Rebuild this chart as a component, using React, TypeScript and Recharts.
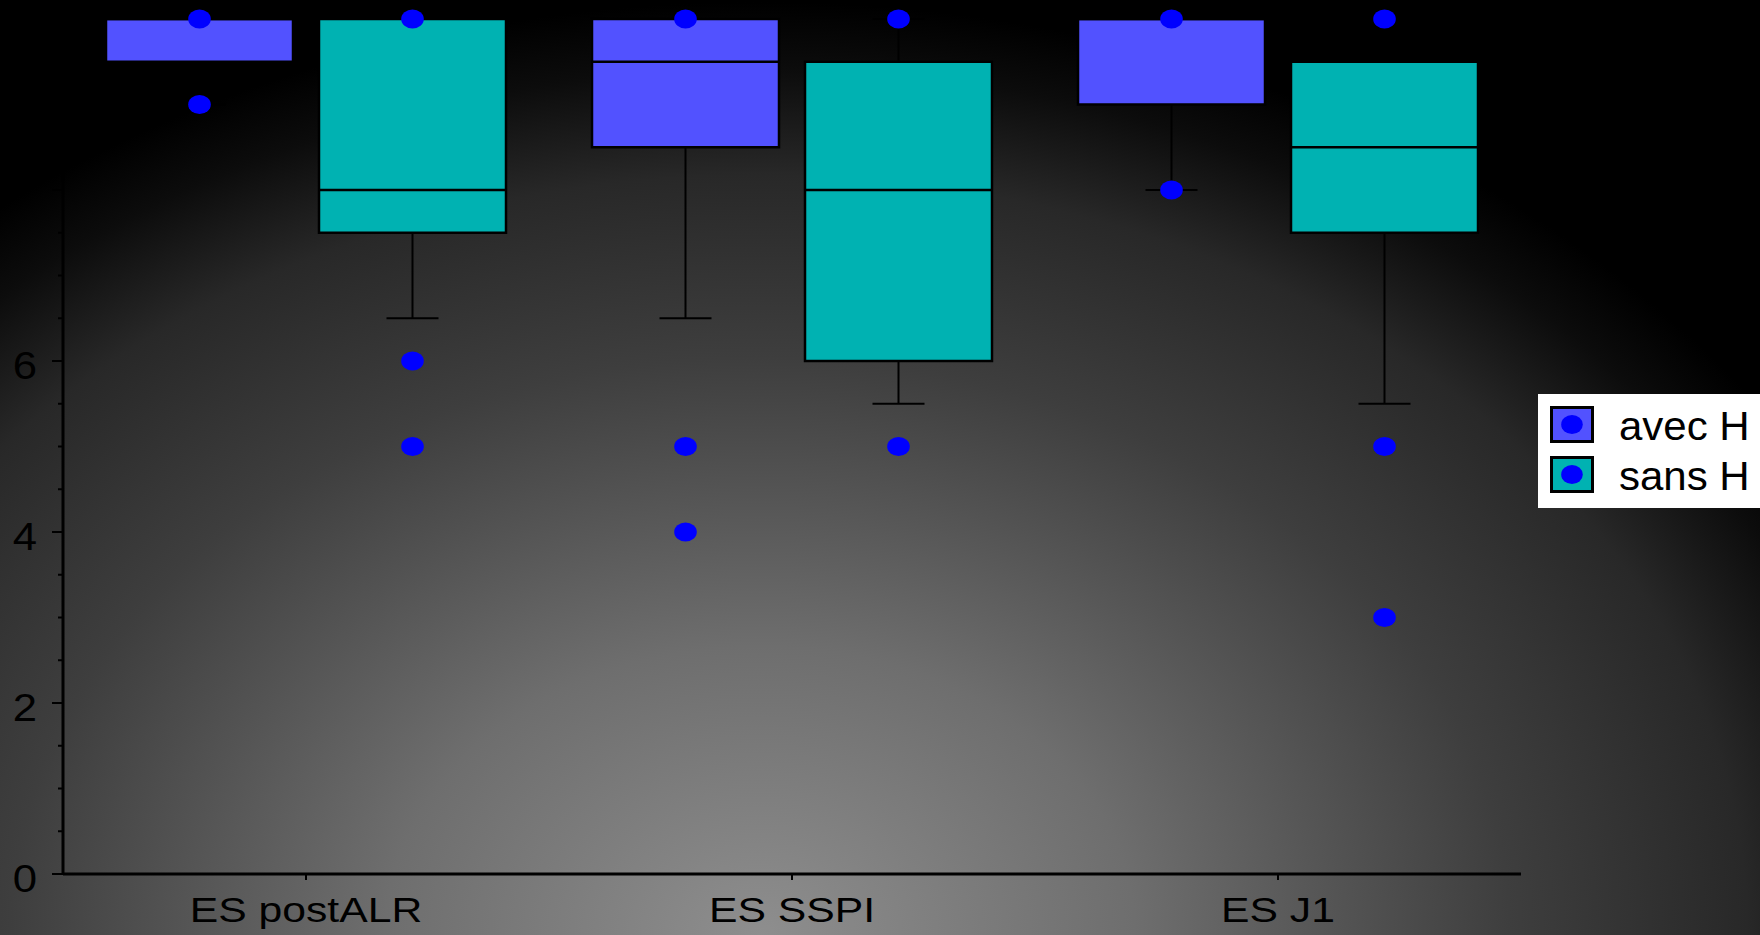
import { BarChart, Bar, XAxis, YAxis, Legend } from "recharts"

const categories = ["ES postALR", "ES SSPI", "ES J1"]

// avec H
const avecQ1 = [9.5, 8.5, 9]
const avecMedian = [10, 9.5, 10]
const avecQ3 = [10, 10, 10]
const avecLow = [9, 6.5, 8]
const avecHigh = [10, 10, 10]
const avecPoints = [[10, 9], [10, 5, 4], [10, 8]]

// sans H
const sansQ1 = [7.5, 6, 7.5]
const sansMedian = [8, 8, 8.5]
const sansQ3 = [10, 9.5, 9.5]
const sansLow = [6.5, 5.5, 5.5]
const sansHigh = [10, 10, 10]
const sansPoints = [[10, 6, 5], [10, 5], [10, 5, 3]]

// labels 8 and 10 are black on black in the original, so only these show
const yTickLabels = [0, 2, 4, 6]
const yMajorTicks = [0, 2, 4, 6, 8, 10]
const yMinorTicks = [0, 0.5, 1, 1.5, 2, 2.5, 3, 3.5, 4, 4.5, 5, 5.5, 6, 6.5, 7, 7.5, 8, 8.5, 9, 9.5, 10]

const AVEC_COLOR = "#5252ff"
const SANS_COLOR = "#00b2b2"
const DOT_COLOR = "#0000ff"
const FONT = "'Liberation Sans', Arial, sans-serif"

type BoxStats = { q1: number; median: number; q3: number; low: number; high: number; points: number[] }

const data = categories.map((name, i) => ({
  name,
  avec: { q1: avecQ1[i], median: avecMedian[i], q3: avecQ3[i], low: avecLow[i], high: avecHigh[i], points: avecPoints[i] },
  sans: { q1: sansQ1[i], median: sansMedian[i], q3: sansQ3[i], low: sansLow[i], high: sansHigh[i], points: sansPoints[i] },
}))

const BoxShape = (props: any) => {
  const { x, y, width, height, fill, box } = props as { x: number; y: number; width: number; height: number; fill: string; box: BoxStats }
  const top = Math.min(y, y + height)
  const h = Math.abs(height)
  // pixel scale taken from the bar the library laid out for [q1, q3]
  const pxPerUnit = h / (box.q3 - box.q1)
  const toY = (v: number) => top + (box.q3 - v) * pxPerUnit
  const cx = x + width / 2
  const cap = 26
  return (
    <g>
      {box.low < box.q1 && (
        <g stroke="#000" strokeWidth={2}>
          <line x1={cx} x2={cx} y1={toY(box.q1)} y2={toY(box.low)} />
          <line x1={cx - cap} x2={cx + cap} y1={toY(box.low)} y2={toY(box.low)} />
        </g>
      )}
      {box.high > box.q3 && (
        <g stroke="#000" strokeWidth={2}>
          <line x1={cx} x2={cx} y1={toY(box.q3)} y2={toY(box.high)} />
          <line x1={cx - cap} x2={cx + cap} y1={toY(box.high)} y2={toY(box.high)} />
        </g>
      )}
      <rect x={x} y={top} width={width} height={h} fill={fill} stroke="#000" strokeWidth={2.5} />
      <line x1={x} x2={x + width} y1={toY(box.median)} y2={toY(box.median)} stroke="#000" strokeWidth={2.5} />
      {box.points.map((p, i) => (
        <ellipse key={i} cx={cx} cy={toY(p)} rx={11.3} ry={9.5} fill={DOT_COLOR} />
      ))}
    </g>
  )
}

const YTick = (props: any) => {
  const { x, y, payload } = props
  const major = yMajorTicks.includes(payload.value)
  return (
    <g transform={`translate(${x},${y})`}>
      <line x1={major ? -11 : -5} x2={0} y1={0} y2={0} stroke="#000" strokeWidth={2} />
      {yTickLabels.includes(payload.value) && (
        <text
          transform="translate(-26,18) scale(1.15,1)"
          textAnchor="end"
          fontSize={38}
          fontFamily={FONT}
          fill="#000"
        >
          {payload.value}
        </text>
      )}
    </g>
  )
}

const XTick = (props: any) => {
  const { x, y, payload } = props
  return (
    <g transform={`translate(${x},${y})`}>
      <line x1={0} x2={0} y1={0} y2={6} stroke="#000" strokeWidth={2} />
      <text transform="translate(0,48) scale(1.22,1)" textAnchor="middle" fontSize={35} fontFamily={FONT} fill="#000">
        {payload.value}
      </text>
    </g>
  )
}

const renderLegend = (props: any) => {
  const { payload } = props
  return (
    <svg width={222} height={114} style={{ display: "block" }}>
      <rect x={0} y={0} width={222} height={114} fill="#fff" />
      {(payload || []).map((entry: any, i: number) => (
        <g key={entry.value} transform={`translate(12,${12 + i * 50})`}>
          <rect x={1.5} y={1.5} width={41} height={34} fill={entry.color} stroke="#000" strokeWidth={3} />
          <ellipse cx={22} cy={18.5} rx={10.8} ry={9.6} fill={DOT_COLOR} />
          <text transform="translate(69,34) scale(1.05,1)" fontSize={40} fontFamily={FONT} fill="#000">
            {entry.value}
          </text>
        </g>
      ))}
    </svg>
  )
}

export default function App() {
  return (
    <div
      style={{
        position: "absolute",
        left: 0,
        top: 0,
        width: 1760,
        height: 935,
        background:
          "radial-gradient(1250px 962px at 760px 935px, #8e8e8e 0%, #6e6e6e 30%, #3e3e3e 60%, #282828 79%, #0c0c0c 90%, #000 97%)",
      }}
    >
      <BarChart
        width={1760}
        height={935}
        data={data}
        margin={{ top: 19, right: 239, bottom: 0, left: 0 }}
        barSize={187}
        barGap={26}
      >
        <XAxis
          dataKey="name"
          height={61}
          axisLine={{ stroke: "#000", strokeWidth: 3 }}
          tickLine={false}
          tickSize={0}
          tickMargin={0}
          tick={<XTick />}
          interval={0}
        />
        <YAxis
          width={63}
          domain={[0, 10]}
          ticks={yMinorTicks}
          interval={0}
          axisLine={{ stroke: "#000", strokeWidth: 3 }}
          tickLine={false}
          tickSize={0}
          tickMargin={0}
          tick={<YTick />}
        />
        <Legend
          layout="vertical"
          align="center"
          verticalAlign="middle"
          content={renderLegend}
          wrapperStyle={{ left: 1538, top: 394, width: 222, height: 114 }}
        />
        <Bar
          name="avec H"
          dataKey={(d: any) => [d.avec.q1, d.avec.q3]}
          fill={AVEC_COLOR}
          isAnimationActive={false}
          shape={(p: any) => <BoxShape {...p} fill={AVEC_COLOR} box={p.payload.avec} />}
        />
        <Bar
          name="sans H"
          dataKey={(d: any) => [d.sans.q1, d.sans.q3]}
          fill={SANS_COLOR}
          isAnimationActive={false}
          shape={(p: any) => <BoxShape {...p} fill={SANS_COLOR} box={p.payload.sans} />}
        />
      </BarChart>
    </div>
  )
}
